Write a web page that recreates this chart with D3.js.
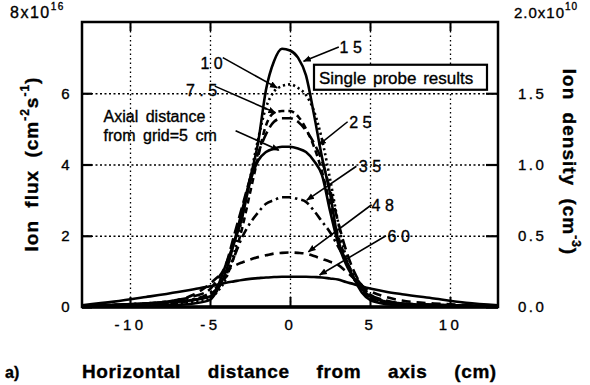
<!DOCTYPE html>
<html>
<head>
<meta charset="utf-8">
<script src="https://cdn.jsdelivr.net/npm/d3@7"></script>
<style>
  body { margin: 0; background: #fff; }
  svg { font-family: "Liberation Sans", Arial, sans-serif; }
  svg text { stroke: #000; stroke-width: 0.35px; }
</style>
</head>
<body>
<div id="chart"></div>
<script>
// horizontal distance from axis (cm)
const xs = [-13,-11,-9,-7,-6,-5,-4.5,-4,-3.5,-3,-2.5,-2,-1.5,-1,-0.5,0,0.5,1,1.5,2,2.5,3,3.5,4,4.5,5,6,7,9,11,13];

// ion flux, units of 1e16 cm^-2 s^-1, per axial distance from grid
const flux5  = [0.03,0.06,0.1,0.15,0.2,0.3,0.6,1.2,1.8,2.5,3.5,4.1,4.35,4.45,4.5,4.5,4.45,4.35,4.1,3.7,2.7,1.8,1.2,0.8,0.5,0.3,0.15,0.1,0.06,0.04,0.02];
const flux75 = [0.02,0.05,0.08,0.12,0.2,0.35,0.55,0.85,1.4,2.2,3.2,4.2,5.1,5.45,5.5,5.5,5.35,5.0,4.5,3.8,2.9,2.0,1.35,0.8,0.45,0.25,0.12,0.08,0.05,0.03,0.02];
const flux10 = [0.02,0.04,0.06,0.1,0.15,0.25,0.45,0.8,1.5,2.5,3.6,4.7,5.6,6.05,6.2,6.25,6.15,5.95,5.5,4.7,3.6,2.4,1.4,0.8,0.45,0.25,0.12,0.08,0.05,0.03,0.02];
const flux15 = [0.01,0.02,0.04,0.06,0.1,0.2,0.5,1.0,1.8,2.7,3.6,4.6,6.1,6.9,7.25,7.2,7.0,6.5,5.4,4.2,3.2,1.9,1.3,0.8,0.4,0.2,0.08,0.05,0.03,0.02,0.01];
const flux25 = [0.02,0.05,0.1,0.2,0.3,0.5,0.8,1.2,2.0,2.8,3.6,4.3,4.85,5.2,5.3,5.3,5.2,4.95,4.6,4.1,3.3,2.4,1.6,1.0,0.6,0.35,0.18,0.1,0.06,0.04,0.02];
const flux35 = [0.03,0.06,0.1,0.15,0.22,0.4,0.6,0.9,1.4,1.95,2.35,2.65,2.9,3.0,3.08,3.08,3.03,2.95,2.7,2.4,2.1,1.7,1.3,0.9,0.6,0.35,0.15,0.1,0.06,0.04,0.02];
const flux48 = [0.03,0.06,0.1,0.2,0.35,0.65,0.85,1.0,1.15,1.25,1.33,1.4,1.45,1.5,1.52,1.53,1.52,1.5,1.43,1.35,1.27,1.18,1.0,0.8,0.6,0.45,0.28,0.18,0.1,0.06,0.03];
const flux60 = [0.05,0.15,0.28,0.42,0.5,0.58,0.63,0.68,0.72,0.76,0.79,0.81,0.83,0.84,0.85,0.85,0.85,0.85,0.84,0.83,0.8,0.77,0.7,0.64,0.57,0.52,0.43,0.36,0.24,0.12,0.05];

const xTicks = [-10, -5, 0, 5, 10];
const yTicks = [0, 2, 4, 6];
const yRightTicks = [0, 0.5, 1.0, 1.5];

const margin = { top: 22, right: 92, bottom: 78, left: 82 };
const W = 590, H = 385;
const width = W - margin.left - margin.right;
const height = H - margin.top - margin.bottom;

const svg = d3.select("#chart").append("svg")
    .attr("width", W)
    .attr("height", H);

const g = svg.append("g")
    .attr("transform", "translate(" + margin.left + "," + margin.top + ")");

const x = d3.scaleLinear().domain([-13, 13]).range([0, width]);
const y = d3.scaleLinear().domain([0, 8]).range([height, 0]);
const yR = d3.scaleLinear().domain([0, 2]).range([height, 0]);

// dotted grid
g.append("g")
    .attr("transform", "translate(0," + height + ")")
    .call(d3.axisBottom(x).tickValues(xTicks).tickSize(-height).tickFormat(""))
    .call(a => a.select(".domain").remove())
    .selectAll("line")
        .attr("stroke", "#000")
        .attr("stroke-width", 1.3)
        .attr("stroke-dasharray", "1.5,3");

g.append("g")
    .call(d3.axisLeft(y).tickValues([2, 4, 6]).tickSize(-width).tickFormat(""))
    .call(a => a.select(".domain").remove())
    .selectAll("line")
        .attr("stroke", "#000")
        .attr("stroke-width", 1.3)
        .attr("stroke-dasharray", "2,2.5");

// curves
const series = [
    { values: flux60, dash: null },
    { values: flux48, dash: "9,6" },
    { values: flux35, dash: "9,4,2.5,4" },
    { values: flux5,  dash: null },
    { values: flux25, dash: "11,5" },
    { values: flux75, dash: "6,4" },
    { values: flux10, dash: "2.2,3" },
    { values: flux15, dash: null }
];

const line = d3.line()
    .x((d, i) => x(xs[i]))
    .y(d => y(d))
    .curve(d3.curveMonotoneX);

g.append("g")
    .selectAll("path")
    .data(series)
    .enter()
    .append("path")
        .attr("d", d => line(d.values))
        .attr("fill", "none")
        .attr("stroke", "#000")
        .attr("stroke-width", 2.6)
        .attr("stroke-linecap", "butt")
        .attr("stroke-dasharray", d => d.dash);

// axes with inward ticks
const tickFont = a => a.selectAll("text")
    .attr("font-size", 15)
    .attr("fill", "#000")
    .attr("letter-spacing", 2.5);

g.append("g")
    .attr("transform", "translate(0," + height + ")")
    .call(d3.axisBottom(x).tickValues(xTicks).tickSize(-10).tickPadding(12)
        .tickFormat(d => d < 0 ? "-" + Math.abs(d) : d))
    .call(a => a.select(".domain").remove())
    .call(a => a.selectAll("line").attr("stroke-width", 2))
    .call(tickFont)
    .call(a => a.selectAll("text").attr("letter-spacing", 3.5));

g.append("g")
    .call(d3.axisTop(x).tickValues(xTicks).tickSize(-9).tickFormat(""))
    .call(a => a.select(".domain").remove())
    .call(a => a.selectAll("line").attr("stroke-width", 2));

g.append("g")
    .call(d3.axisLeft(y).tickValues(yTicks).tickSize(-10).tickPadding(10))
    .call(a => a.select(".domain").remove())
    .call(a => a.selectAll("line").attr("stroke-width", 2.2))
    .call(tickFont);

g.append("g")
    .attr("transform", "translate(" + width + ",0)")
    .call(d3.axisRight(yR).tickValues(yRightTicks).tickSize(-12).tickPadding(20)
        .tickFormat(d3.format(".1f")))
    .call(a => a.select(".domain").remove())
    .call(a => a.selectAll("line").attr("stroke-width", 2.2))
    .call(tickFont);

// frame
g.append("rect")
    .attr("width", width)
    .attr("height", height)
    .attr("fill", "none")
    .attr("stroke", "#000")
    .attr("stroke-width", 2.5);
g.append("line")
    .attr("x1", 0).attr("x2", width)
    .attr("y1", height).attr("y2", height)
    .attr("stroke", "#000")
    .attr("stroke-width", 3.5);

// axis end labels with exponents
const topLeft = g.append("text")
    .attr("x", -72).attr("y", -4)
    .attr("font-size", 16)
    .attr("letter-spacing", 1.5);
topLeft.append("tspan").text("8x10");
topLeft.append("tspan").attr("dy", -8).attr("font-size", 10).text("16");

const topRight = g.append("text")
    .attr("x", width + 16).attr("y", -4)
    .attr("font-size", 15)
    .attr("letter-spacing", 1);
topRight.append("tspan").text("2.0x10");
topRight.append("tspan").attr("dy", -8).attr("font-size", 10).text("10");

// axis titles
const yTitle = svg.append("text")
    .attr("transform", "translate(38," + (margin.top + 142) + ") rotate(-90)")
    .attr("text-anchor", "middle")
    .attr("font-size", 19)
    .attr("font-weight", "bold")
    .attr("word-spacing", 6)
    .attr("letter-spacing", 1);
yTitle.append("tspan").text("Ion flux (cm");
yTitle.append("tspan").attr("dy", -9).attr("font-size", 12).text("-2");
yTitle.append("tspan").attr("dy", 9).text("s");
yTitle.append("tspan").attr("dy", -9).attr("font-size", 12).text("-1");
yTitle.append("tspan").attr("dy", 9).text(")");

const yRTitle = svg.append("text")
    .attr("transform", "translate(563," + (margin.top + 140) + ") rotate(90)")
    .attr("text-anchor", "middle")
    .attr("font-size", 19)
    .attr("font-weight", "bold")
    .attr("word-spacing", 6)
    .attr("letter-spacing", 1);
yRTitle.append("tspan").text("Ion density (cm");
yRTitle.append("tspan").attr("dy", -9).attr("font-size", 12).text("-3");
yRTitle.append("tspan").attr("dy", 9).text(")");

svg.append("text")
    .attr("x", margin.left)
    .attr("y", 378)
    .attr("font-size", 19)
    .attr("font-weight", "bold")
    .attr("letter-spacing", 0.6)
    .attr("word-spacing", 21)
    .text("Horizontal distance from axis (cm)");

svg.append("text")
    .attr("x", 5)
    .attr("y", 378)
    .attr("font-size", 16)
    .attr("font-weight", "bold")
    .text("a)");

// legend box
g.append("rect")
    .attr("x", x(1.5)).attr("y", y(6.8))
    .attr("width", 173).attr("height", 25)
    .attr("fill", "#fff")
    .attr("stroke", "#000")
    .attr("stroke-width", 2.2);
g.append("text")
    .attr("x", x(1.5) + 5).attr("y", y(6.8) + 19)
    .attr("font-size", 17)
    .attr("word-spacing", 2)
    .text("Single probe results");

// labelled arrows (data coords: text anchor, arrow start, arrow end)
const notes = [
    { text: "1 5",   tx: 3.1,  ty: 7.3,  sx: 3.05, sy: 7.3,  ex: 0.85, ey: 6.9 },
    { text: "1 0",   tx: -5.6, ty: 6.85, sx: -4.2, sy: 7.0,  ex: -0.8, ey: 6.15 },
    { text: "7 . 5", tx: -6.5, ty: 6.08, sx: -4.7, sy: 6.2,  ex: -0.9, ey: 5.45 },
    { text: "2 5",   tx: 3.7,  ty: 5.2,  sx: 3.6,  sy: 5.2,  ex: 1.8,  ey: 4.55 },
    { text: "3 5",   tx: 4.3,  ty: 3.95, sx: 4.15, sy: 3.95, ex: 1.05, ey: 3.0 },
    { text: "4 8",   tx: 5.1,  ty: 2.85, sx: 5.1,  sy: 2.87, ex: 1.15, ey: 1.55 },
    { text: "6 0",   tx: 6.1,  ty: 1.99, sx: 6.0,  sy: 2.0,  ex: 1.85, ey: 0.9 },
    { text: null,    tx: 0,    ty: 0,    sx: -3.4, sy: 4.95, ex: -0.7, ey: 4.4 }
];

svg.append("defs").append("marker")
    .attr("id", "head")
    .attr("viewBox", "0 0 10 10")
    .attr("refX", 9).attr("refY", 5)
    .attr("markerWidth", 5).attr("markerHeight", 5)
    .attr("orient", "auto")
    .append("path")
        .attr("d", "M0,1 L10,5 L0,9 z")
        .attr("fill", "#000");

g.append("g")
    .selectAll("line")
    .data(notes)
    .enter()
    .append("line")
        .attr("x1", d => x(d.sx)).attr("y1", d => y(d.sy))
        .attr("x2", d => x(d.ex)).attr("y2", d => y(d.ey))
        .attr("stroke", "#000")
        .attr("stroke-width", 1.6)
        .attr("marker-end", "url(#head)");

g.append("g")
    .selectAll("text")
    .data(notes.filter(d => d.text))
    .enter()
    .append("text")
        .attr("x", d => x(d.tx)).attr("y", d => y(d.ty) + 6)
        .attr("font-size", 16)
        .attr("fill", "#000")
        .text(d => d.text);

const axial = g.append("text")
    .attr("font-size", 16)
    .attr("word-spacing", 3);
axial.append("tspan").attr("x", x(-11.65)).attr("y", y(5.2)).text("Axial distance");
axial.append("tspan").attr("x", x(-11.65)).attr("y", y(4.65)).text("from grid=5 cm");
</script>
</body>
</html>
